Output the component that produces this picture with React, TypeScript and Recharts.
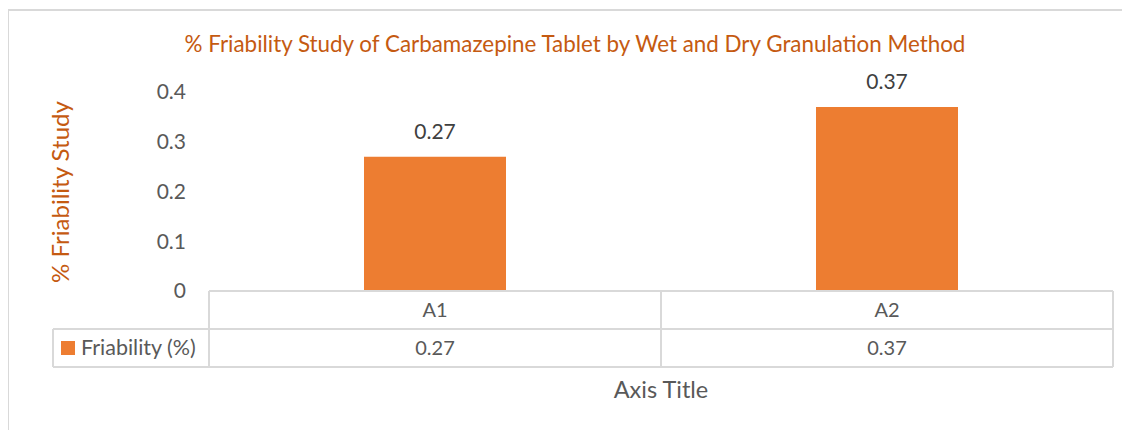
import React from 'react';
import { BarChart, Bar, XAxis, YAxis, LabelList } from 'recharts';

const categories = ['A1', 'A2'];
const friability = [0.27, 0.37];
const yTicks = [0, 0.1, 0.2, 0.3, 0.4];
const seriesName = 'Friability (%)';

const W = 1122;
const H = 422;
const margin = { top: 84, right: 17, left: 141, bottom: 39 };
const yAxisWidth = 60;
const FONT = 'Lato, "Open Sans", sans-serif';
const GRID = '#d9d9d9';
const TXT = '#595959';
const BAR = '#ED7D31';
const TITLE = '#C55A11';

const plotLeft = margin.left + yAxisWidth;
const plotWidth = W - plotLeft - margin.right;
const band = plotWidth / categories.length;
const legendLeft = 45;

const data = categories.map((c, i) => ({ name: c, value: friability[i] }));

function TableTick(props: any) {
    const { x, y, payload } = props;
    const i = payload.index;
    const l = x - band / 2;
    const r = x + band / 2;
    return (
        <g>
            <line x1={l} x2={l} y1={y} y2={y + 76} stroke={GRID} strokeWidth={2} />
            {i === categories.length - 1 && (
                <line x1={r} x2={r} y1={y} y2={y + 76} stroke={GRID} strokeWidth={2} />
            )}
            <line x1={l} x2={r} y1={y + 38} y2={y + 38} stroke={GRID} strokeWidth={2} />
            <line x1={l} x2={r} y1={y + 76} y2={y + 76} stroke={GRID} strokeWidth={2} />
            <text x={x} y={y + 26} textAnchor="middle" fill={TXT} fontSize={20} fontFamily={FONT}>
                {categories[i]}
            </text>
            <text x={x} y={y + 64} textAnchor="middle" fill={TXT} fontSize={20} fontFamily={FONT}>
                {friability[i]}
            </text>
            {i === 0 && (
                <g>
                    <line x1={legendLeft} x2={l} y1={y + 38} y2={y + 38} stroke={GRID} strokeWidth={2} />
                    <line x1={legendLeft} x2={l} y1={y + 76} y2={y + 76} stroke={GRID} strokeWidth={2} />
                    <line x1={legendLeft} x2={legendLeft} y1={y + 38} y2={y + 76} stroke={GRID} strokeWidth={2} />
                    <rect x={legendLeft + 8} y={y + 50} width={14} height={14} fill={BAR} />
                    <text x={legendLeft + 28} y={y + 64} fill={TXT} fontSize={21.5} fontFamily={FONT}>
                        {seriesName}
                    </text>
                </g>
            )}
        </g>
    );
}

export default function App() {
    return (
        <div style={{ position: 'relative', width: W, height: H }}>
            <div
                style={{
                    position: 'absolute',
                    top: 1,
                    left: -1,
                    right: -8,
                    bottom: -8,
                    borderTop: `2px solid ${GRID}`,
                    borderLeft: `2px solid ${GRID}`,
                }}
            />
            <BarChart width={W} height={H} data={data} margin={margin} style={{ position: 'absolute', top: 0, left: 0 }}>
                <text x={567} y={44} textAnchor="middle" fill={TITLE} fontSize={22.4} fontFamily={FONT}>
                    % Friability Study of Carbamazepine Tablet by Wet and Dry Granulation Method
                </text>
                <text
                    x={0}
                    y={0}
                    transform="translate(61, 184) rotate(-90)"
                    textAnchor="middle"
                    fill={TITLE}
                    fontSize={24}
                    fontFamily={FONT}
                >
                    % Friability Study
                </text>
                <text x={plotLeft + plotWidth / 2} y={390} textAnchor="middle" fill={TXT} fontSize={23.5} fontFamily={FONT}>
                    Axis Title
                </text>
                <XAxis
                    dataKey="name"
                    height={100}
                    axisLine={{ stroke: GRID, strokeWidth: 2 }}
                    tickLine={false}
                    tickSize={0}
                    tickMargin={0}
                    tick={<TableTick />}
                    interval={0}
                />
                <YAxis
                    width={yAxisWidth}
                    domain={[0, 0.4]}
                    ticks={yTicks}
                    axisLine={false}
                    tickLine={false}
                    tickSize={0}
                    tickMargin={23}
                    tick={{ fill: TXT, fontSize: 21, fontFamily: FONT }}
                />
                <Bar dataKey="value" fill={BAR} barSize={142} isAnimationActive={false}>
                    <LabelList dataKey="value" position="top" offset={18} fill="#404040" fontSize={21} fontFamily={FONT} />
                </Bar>
            </BarChart>
        </div>
    );
}
